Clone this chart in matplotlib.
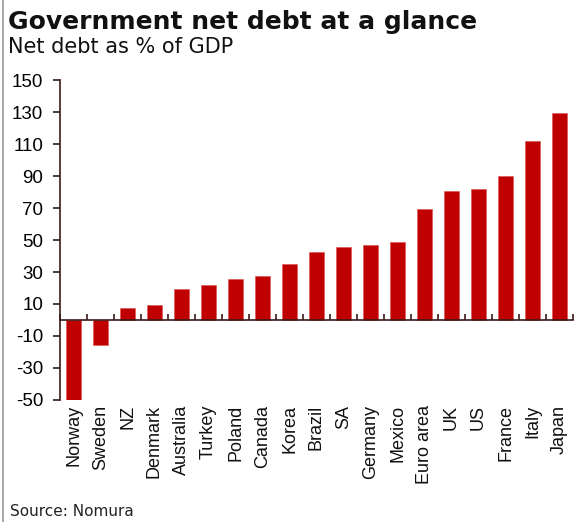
import matplotlib
matplotlib.use("Agg")
import matplotlib.pyplot as plt
from matplotlib.lines import Line2D
import numpy as np

countries = ["Norway", "Sweden", "NZ", "Denmark", "Australia", "Turkey", "Poland",
             "Canada", "Korea", "Brazil", "SA", "Germany", "Mexico", "Euro area",
             "UK", "US", "France", "Italy", "Japan"]
net_debt = [-50, -15.6, 7.3, 9.2, 19.4, 21.7, 25.8, 27.2, 35.3, 42.8, 45.8, 46.7,
            48.5, 69.2, 80.6, 81.9, 90.2, 112, 129.4]
yticks = [-50, -30, -10, 10, 30, 50, 70, 90, 110, 130, 150]

bar_color = "#c00000"
axis_color = "#3a1a1a"

fig = plt.figure(figsize=(5.8, 5.22), dpi=100)
ax = fig.add_axes([60/580, 1 - 400/522, 513/580, 320/522])

x = np.arange(len(countries))
ax.bar(x, net_debt, width=0.56, color=bar_color, edgecolor="#d85050", linewidth=0.4)

ax.set_xlim(-0.5, len(countries) - 0.5)
ax.set_ylim(-50, 150)
ax.set_yticks(yticks)
ax.set_yticklabels([str(t) for t in yticks], fontsize=13.5, family="Liberation Sans")
ax.tick_params(axis="y", direction="out", length=5, width=1.2, color=axis_color, pad=7)

# x axis sits on zero, ticks between the bars pointing up
ax.spines["bottom"].set_position(("data", 0))
ax.spines["bottom"].set_color(axis_color)
ax.spines["bottom"].set_linewidth(1.2)
ax.spines["left"].set_color(axis_color)
ax.spines["left"].set_linewidth(1.2)
ax.spines["top"].set_visible(False)
ax.spines["right"].set_visible(False)
ax.set_xticks(np.arange(len(countries) + 1) - 0.5)
ax.set_xticklabels([])
ax.tick_params(axis="x", direction="in", length=4, width=1.2, color=axis_color)

# category names under the plot
for i, name in enumerate(countries):
    ax.text(i, -53, name, rotation=90, ha="center", va="top", fontsize=13,
            family="Liberation Sans", color="#111111")

fig.text(8/580, 1 - 22/522, "Government net debt at a glance", fontsize=18,
         fontweight="bold", va="center", ha="left", color="#111111")
fig.text(8/580, 1 - 47/522, "Net debt as % of GDP", fontsize=15,
         va="center", ha="left", color="#111111")
fig.text(10/580, 1 - 511/522, "Source: Nomura", fontsize=11,
         va="center", ha="left", color="#222222")

fig.add_artist(Line2D([2.5/580, 2.5/580], [0, 1], transform=fig.transFigure,
                      color="#999999", linewidth=1.2))

fig.savefig("out.png", dpi=100)
